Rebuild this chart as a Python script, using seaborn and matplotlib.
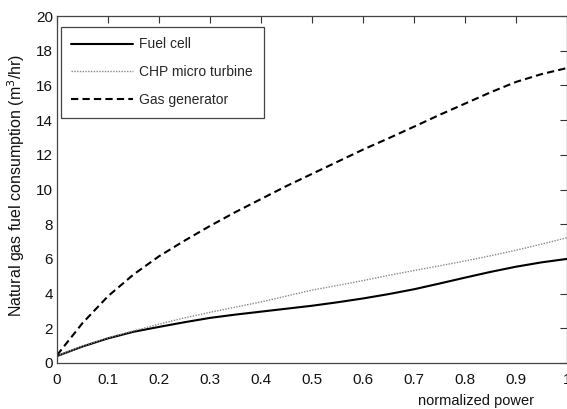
import numpy as np
import pandas as pd
import matplotlib
matplotlib.use("Agg")
import matplotlib.pyplot as plt
import seaborn as sns

power = [0.0, 0.05, 0.1, 0.15, 0.2, 0.25, 0.3, 0.35, 0.4, 0.45, 0.5,
         0.55, 0.6, 0.65, 0.7, 0.75, 0.8, 0.85, 0.9, 0.95, 1.0]
fuel_cell = [0.4, 0.95, 1.42, 1.8, 2.08, 2.35, 2.6, 2.79, 2.96, 3.13, 3.3,
             3.5, 3.72, 3.97, 4.25, 4.58, 4.92, 5.25, 5.55, 5.8, 6.0]
chp_turbine = [0.4, 0.97, 1.45, 1.85, 2.24, 2.6, 2.92, 3.22, 3.52, 3.86, 4.2,
               4.47, 4.75, 5.05, 5.33, 5.6, 5.88, 6.18, 6.5, 6.85, 7.22]
gas_generator = [0.45, 2.3, 3.85, 5.1, 6.15, 7.05, 7.9, 8.7, 9.45, 10.2, 10.9,
                 11.6, 12.3, 12.95, 13.62, 14.3, 14.95, 15.6, 16.2, 16.65, 17.0]
series_names = ["Fuel cell", "CHP micro turbine", "Gas generator"]
x_ticks = [0, 0.1, 0.2, 0.3, 0.4, 0.5, 0.6, 0.7, 0.8, 0.9, 1.0]
x_tick_labels = ["0", "0.1", "0.2", "0.3", "0.4", "0.5", "0.6", "0.7", "0.8", "0.9", "1"]
y_ticks = [0, 2, 4, 6, 8, 10, 12, 14, 16, 18, 20]

df = pd.DataFrame({
    "power": power * 3,
    "value": fuel_cell + chp_turbine + gas_generator,
    "series": [series_names[0]] * len(power) + [series_names[1]] * len(power) + [series_names[2]] * len(power),
})

sns.set_theme(style="white")
plt.rcParams["font.family"] = ["Liberation Sans", "DejaVu Sans"]

fig = plt.figure(figsize=(5.67, 4.09), dpi=100)
ax = fig.add_axes([57 / 567, 1 - 363 / 409, 510 / 567, 347 / 409])

styles = {
    "Fuel cell": dict(color="black", linestyle="-", linewidth=1.5),
    "CHP micro turbine": dict(color="#888888", linestyle=(0, (1, 1)), linewidth=1.0),
    "Gas generator": dict(color="black", linestyle=(0, (3.5, 2)), linewidth=1.5),
}
for name in series_names:
    sub = df[df["series"] == name]
    sns.lineplot(data=sub, x="power", y="value", ax=ax, label=name, **styles[name])

ax.set_xlim(0, 1)
ax.set_ylim(0, 20)
ax.set_xticks(x_ticks)
ax.set_xticklabels(x_tick_labels)
ax.set_yticks(y_ticks)
ax.tick_params(direction="in", length=5, width=0.8, color="#333333",
               top=True, right=True, labelsize=11, labelcolor="#111111")
ax.tick_params(axis="x", pad=7)
ax.tick_params(axis="y", pad=3)
for s in ax.spines.values():
    s.set_color("#444444")
    s.set_linewidth(0.9)

ax.set_ylabel("Natural gas fuel consumption (m$^3$/hr)", fontsize=11.5, color="#111111")
ax.yaxis.set_label_coords(-(57 - 27) / 510, (363 - 185) / 347)
ax.set_xlabel("normalized power", fontsize=10.5, color="#111111")
ax.xaxis.set_label_coords((476 - 57) / 510, -0.088)

leg = ax.legend(loc="upper left", bbox_to_anchor=(4 / 510, 1 - 11 / 347), borderaxespad=0,
                fontsize=10, handlelength=4.4, labelspacing=1.0, borderpad=0.75,
                frameon=True, fancybox=False, edgecolor="#444444", handletextpad=0.5)
leg.get_frame().set_linewidth(0.9)
leg.get_frame().set_alpha(1)

fig.savefig("out.png", dpi=100)
